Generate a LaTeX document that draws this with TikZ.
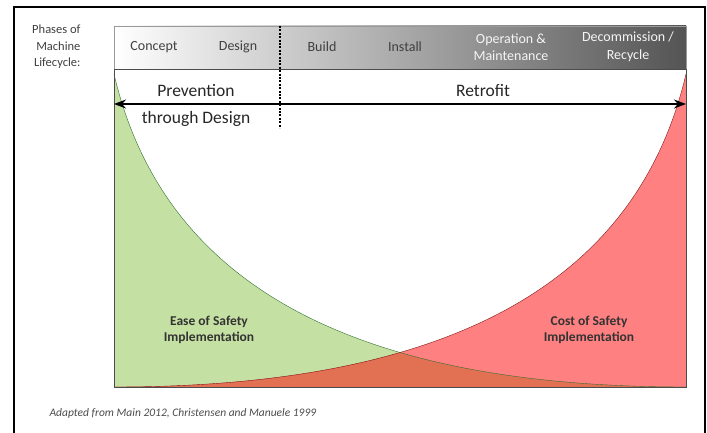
\documentclass[tikz,border=0pt]{standalone}
\usepackage{fontspec}
\setmainfont{Carlito}
\usetikzlibrary{arrows.meta}
\definecolor{easegreen}{RGB}{197,224,163}
\definecolor{costred}{RGB}{255,128,128}
\definecolor{overlapred}{RGB}{226,112,82}
\definecolor{labelgray}{RGB}{64,64,64}
\definecolor{bargray}{RGB}{84,84,84}
\definecolor{barmid}{RGB}{184,184,184}

\begin{document}
\begin{tikzpicture}[x=1pt, y=-1pt,
    phase/.style={font=\fontsize{14}{17.5}\selectfont, text=labelgray, align=center},
    phaselight/.style={phase, text=white!92!gray},
    banner/.style={font=\fontsize{17.5}{19}\selectfont, text=black!85, anchor=base},
    area/.style={font=\bfseries\fontsize{13.5}{16}\selectfont, text=black!80, align=center}]
  \useasboundingbox (0,0) rectangle (707,433);
  % frame, open at the bottom
  \draw[line width=2pt] (14,433) -- (14,7) -- (705,7) -- (705,433);

  % phase bar
  \shade[left color=white, middle color=barmid, right color=bargray] (114,26) rectangle (686,69);
  \draw[gray!80] (114,26) rectangle (686,69);
  \node[phase, align=right, anchor=east, text=labelgray, font=\fontsize{12.5}{16.5}\selectfont] (lifecycle) at (84,47) {Phases of\\Machine\\Lifecycle:};
  \foreach \name/\x/\txt in {concept/154/Concept, design/238/Design, build/322/Build, install/405/Install}{
    \node[phase] (\name) at (\x,47) {\txt}; }
  \node[phaselight] (operation) at (511,47) {Operation \&\\Maintenance};
  \node[phaselight] (decommission) at (628,47) {Decommission /\\Recycle};

  % the two curves
  \coordinate (gtop) at (114,74);
  \coordinate (gend) at (686,387);
  \coordinate (rtop) at (686,74);
  \coordinate (rend) at (114,387);
  \fill[easegreen] (gtop) .. controls (160,270) and (330,387) .. (gend) -- (rend) -- cycle;
  \fill[costred] (rend) .. controls (470,387) and (640,270) .. (rtop) -- (gend) -- cycle;
  \begin{scope}
    \clip (gtop) .. controls (160,270) and (330,387) .. (gend) -- (rend) -- cycle;
    \fill[overlapred] (rend) .. controls (470,387) and (640,270) .. (rtop) -- (gend) -- cycle;
  \end{scope}
  \draw[green!30!black!80] (gtop) .. controls (160,270) and (330,387) .. (gend);
  \draw[red!45!black!90] (rend) .. controls (470,387) and (640,270) .. (rtop);
  \draw[gray!60!black] (114,69) rectangle (686,387);

  \node[area] (ease) at (209,330) {Ease of Safety\\Implementation};
  \node[area] (cost) at (589,330) {Cost of Safety\\Implementation};

  % prevention vs retrofit
  \coordinate (pl) at (114,104);
  \coordinate (pr) at (686,104);
  \draw[{Stealth[length=12pt,width=9pt]}-{Stealth[length=12pt,width=9pt]}, line width=1.6pt] (pl) -- (pr);
  \coordinate (dtop) at (280,26);
  \coordinate (dbot) at (280,128);
  \draw[line width=1.6pt, dash pattern=on 2pt off 1.4pt] (dtop) -- (dbot);
  \node[banner] (prevention) at (196,97) {Prevention};
  \node[banner] (throughdesign) at (196,124) {through Design};
  \node[banner] (retrofit) at (483,97) {Retrofit};

  \node[anchor=west, font=\itshape\fontsize{11.5}{13}\selectfont, text=black!70] (source) at (46,413) {Adapted from Main 2012, Christensen and Manuele 1999};
\end{tikzpicture}
\end{document}
